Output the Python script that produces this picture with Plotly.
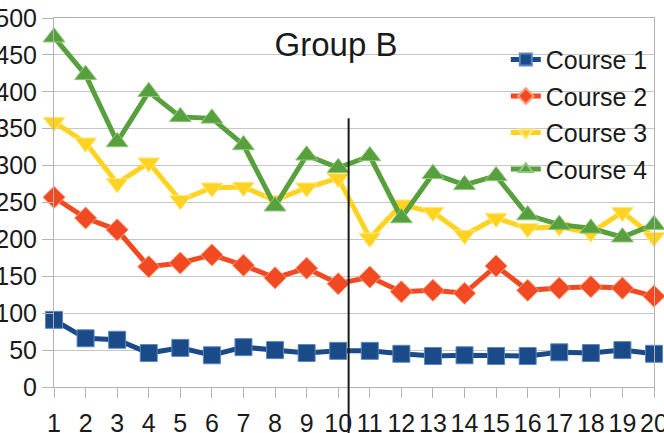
import plotly.graph_objects as go

# Lesson index (x axis) and scores per course
lessons = list(range(1, 21))
course_names = ["Course 1", "Course 2", "Course 3", "Course 4"]

course1 = [91, 66, 64, 46, 53, 43, 54, 50, 46, 49, 49, 45, 42, 43, 42, 42, 47, 46, 50, 45]
course2 = [257, 229, 213, 163, 168, 179, 165, 148, 161, 140, 149, 129, 131, 127, 164, 131, 134, 136, 134, 123]
course3 = [359, 331, 276, 304, 253, 270, 271, 253, 270, 283, 202, 247, 237, 206, 229, 215, 217, 209, 237, 203]
course4 = [474, 423, 332, 400, 366, 364, 328, 245, 314, 297, 313, 229, 289, 274, 286, 233, 220, 215, 203, 220]

series = [course1, course2, course3, course4]
colors = ["#1b4a88", "#f14a22", "#ffd320", "#58a03e"]
edge_colors = ["#5d86c0", "#ff9a7a", "#ffe98a", "#8fc77a"]
symbols = ["square", "diamond", "triangle-down", "triangle-up"]
sizes = [17, 17, 19, 19]

# split marker between the two halves of the term
split_x = 10.33
split_top = 364

y_ticks = list(range(0, 501, 50))

font_family = "Liberation Sans, Arial, sans-serif"
text_color = "#1a1a1a"
grid_color = "#c6c6c6"

fig = go.Figure()
for name, vals, col, edge, sym, sz in zip(course_names, series, colors, edge_colors, symbols, sizes):
    fig.add_trace(go.Scatter(
        x=lessons, y=vals, name=name, legendgroup=name,
        mode="lines+markers",
        line=dict(color=col, width=5),
        marker=dict(symbol=sym, size=sz, color=col, line=dict(color=edge, width=1)),
        cliponaxis=False,
    ))

plot_top_px, plot_bottom_px = 18, 387

fig.add_shape(
    type="line", xref="x", yref="paper",
    x0=split_x, x1=split_x, y0=-0.3, y1=split_top / 500,
    line=dict(color="#1a1a1a", width=2),
)

fig.update_layout(
    width=664, height=433,
    margin=dict(l=54, r=10, t=plot_top_px, b=433 - plot_bottom_px, pad=0, autoexpand=False),
    paper_bgcolor="white", plot_bgcolor="white",
    font=dict(family=font_family, size=25, color=text_color),
    title=dict(
        text="Group B", xref="container", yref="container",
        x=336 / 664, xanchor="center", y=1 - 44 / 433, yanchor="middle",
        font=dict(size=33, color=text_color),
    ),
    showlegend=True,
    legend=dict(
        x=0.753, xanchor="left", y=0.949, yanchor="top",
        bgcolor="rgba(0,0,0,0)", borderwidth=0,
        font=dict(size=25, color=text_color),
        itemsizing="constant", traceorder="grouped", tracegroupgap=1,
    ),
    xaxis=dict(
        range=[1, 20], tickvals=lessons, ticktext=[str(v) for v in lessons],
        showgrid=False, zeroline=False, automargin=False,
        ticklabeloverflow="allow", ticklabelstandoff=4,
        showline=True, linecolor="#b3b3b3", linewidth=1, mirror=True,
        ticks="outside", ticklen=10, tickcolor="#b3b3b3",
        tickfont=dict(size=25, color=text_color),
    ),
    yaxis=dict(
        range=[0, 500], tickvals=y_ticks, automargin=False,
        ticklabeloverflow="allow",
        showgrid=True, gridcolor=grid_color, gridwidth=1, zeroline=False,
        showline=True, linecolor="#b3b3b3", linewidth=1, mirror=True,
        ticks="outside", ticklen=11, tickcolor="#b3b3b3",
        tickfont=dict(size=25, color=text_color),
    ),
)

fig.write_html("out.html")
